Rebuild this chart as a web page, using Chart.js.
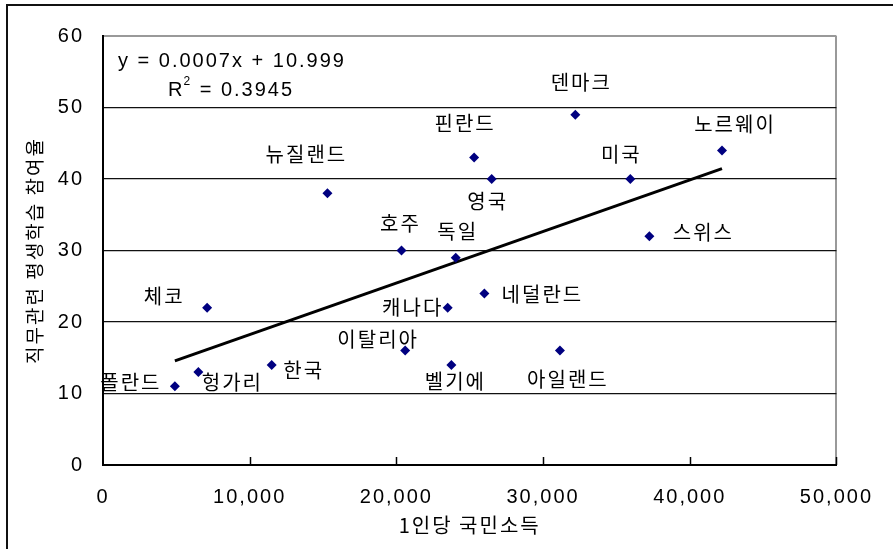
<!DOCTYPE html>
<html>
<head>
<meta charset="utf-8">
<script src="https://cdn.jsdelivr.net/npm/chart.js@4"></script>
<style>
  html, body { margin: 0; padding: 0; background: #fff; overflow: hidden; }
  #wrap { position: relative; width: 893px; height: 549px; }
  #frame { position: absolute; left: 6px; top: 4px; width: 900px; height: 560px; border: 2px solid #111; box-sizing: border-box; }
  canvas { position: absolute; left: 0; top: 0; }
</style>
</head>
<body>
<div id="wrap">
  <div id="frame"></div>
  <canvas id="chart" width="893" height="549"></canvas>
</div>
<script>
// 국가별 1인당 국민소득 / 직무관련 평생학습 참여율
const countries = ['폴란드', '헝가리', '체코', '한국', '뉴질랜드', '호주', '이탈리아', '캐나다', '벨기에',
                   '독일', '핀란드', '네덜란드', '영국', '아일랜드', '덴마크', '미국', '스위스', '노르웨이'];
const income = [4900, 6500, 7100, 11500, 15300, 20350, 20600, 23500, 23750,
                24050, 25300, 26000, 26500, 31150, 32200, 35950, 37250, 42200];
const rate = [11, 13, 22, 14, 38, 30, 16, 22, 14,
              29, 43, 24, 40, 16, 49, 40, 32, 44];
const xTicks = [0, 10000, 20000, 30000, 40000, 50000];
const yTicks = [0, 10, 20, 30, 40, 50, 60];
const equationText = 'y = 0.0007x + 10.999';
const r2Text = ' = 0.3945';

// 이름표 위치 (점 기준 오프셋, px)
const labelOffsets = {
    '폴란드': [-45, -4], '헝가리': [33, 10], '체코': [-44, -11], '한국': [31, 6],
    '뉴질랜드': [-22, -39], '호주': [-2, -27], '이탈리아': [-28, -11], '캐나다': [-36, 0],
    '벨기에': [3, 17], '독일': [1, -26], '핀란드': [-10, -34], '네덜란드': [57, 1],
    '영국': [-5, 22], '아일랜드': [7, 29], '덴마크': [5, -32], '미국': [-10, -25],
    '스위스': [53, -4], '노르웨이': [12, -26]
};

const FONT_NUM = '"Liberation Sans", Arial, "Noto Sans CJK KR", sans-serif';
const FONT_KR = '"Noto Sans CJK KR", "Liberation Sans", sans-serif';

// 추세선 (최소제곱)
function trendLine() {
    const n = income.length;
    let sx = 0, sy = 0, sxx = 0, sxy = 0;
    for (let i = 0; i < n; i++) {
        sx += income[i]; sy += rate[i];
        sxx += income[i] * income[i]; sxy += income[i] * rate[i];
    }
    const b = (n * sxy - sx * sy) / (n * sxx - sx * sx);
    const a = (sy - b * sx) / n;
    const x0 = Math.min(...income), x1 = Math.max(...income);
    return [{x: x0, y: a + b * x0}, {x: x1, y: a + b * x1}];
}

const spacingPlugin = {
    id: 'spacing',
    beforeLayout(chart) { chart.ctx.letterSpacing = '2px'; },
    beforeDraw(chart) { chart.ctx.letterSpacing = '2px'; }
};

const extrasPlugin = {
    id: 'extras',
    afterDraw(chart) {
        const ctx = chart.ctx;
        const xs = chart.scales.x, ys = chart.scales.y;
        const area = chart.chartArea;
        ctx.save();
        ctx.letterSpacing = '0px';

        // x축 안쪽 눈금
        ctx.strokeStyle = '#000';
        ctx.lineWidth = 1.5;
        xTicks.forEach(v => {
            if (v === 0) return;
            const px = Math.round(xs.getPixelForValue(v)) + 0.5;
            ctx.beginPath();
            ctx.moveTo(px, area.bottom);
            ctx.lineTo(px, area.bottom - 8);
            ctx.stroke();
        });

        // 국가 이름표
        ctx.letterSpacing = '2px';
        ctx.fillStyle = '#000';
        ctx.font = '20px ' + FONT_KR;
        ctx.textAlign = 'center';
        ctx.textBaseline = 'middle';
        countries.forEach((name, i) => {
            const off = labelOffsets[name] || [0, -20];
            const px = xs.getPixelForValue(income[i]) + off[0];
            const py = ys.getPixelForValue(rate[i]) + off[1];
            ctx.fillText(name, px + 1, py);
        });

        // 회귀식
        ctx.font = '20px ' + FONT_NUM;
        ctx.letterSpacing = '2px';
        ctx.textAlign = 'left';
        ctx.fillText(equationText, area.left + 15, area.top + 25);
        let rx = area.left + 65;
        const ry = area.top + 54;
        ctx.fillText('R', rx, ry);
        rx += ctx.measureText('R').width - 1;
        ctx.font = '12px ' + FONT_NUM;
        ctx.fillText('2', rx, ry - 8);
        rx += ctx.measureText('2').width;
        ctx.font = '20px ' + FONT_NUM;
        ctx.fillText(r2Text, rx, ry);
        ctx.restore();
    }
};

const ctx = document.getElementById('chart').getContext('2d');
new Chart(ctx, {
    type: 'scatter',
    data: {
        datasets: [{
            label: '참여율',
            data: income.map((v, i) => ({x: v, y: rate[i]})),
            pointStyle: 'rectRot',
            pointRadius: 5,
            pointHoverRadius: 5,
            backgroundColor: '#000080',
            borderColor: '#000080',
            borderWidth: 0
        }, {
            label: '추세선',
            type: 'line',
            data: trendLine(),
            borderColor: '#000',
            borderWidth: 3,
            pointRadius: 0,
            fill: false
        }]
    },
    options: {
        responsive: false,
        animation: false,
        events: [],
        layout: { padding: { left: 0, top: 36, right: 55, bottom: 0 } },
        plugins: { legend: { display: false }, tooltip: { enabled: false } },
        scales: {
            x: {
                type: 'linear',
                min: 0, max: 50000,
                afterBuildTicks: s => { s.ticks = xTicks.map(v => ({value: v})); },
                afterFit: s => { s.height = 84; },
                ticks: {
                    color: '#000',
                    padding: 20,
                    maxRotation: 0,
                    font: { size: 20, family: FONT_NUM },
                    callback: v => v.toLocaleString('en-US')
                },
                grid: {
                    drawTicks: false,
                    color: c => (c.tick && c.tick.value === 50000) ? '#999' : 'rgba(0,0,0,0)',
                    lineWidth: 2
                },
                border: { color: '#000', width: 2 },
                title: {
                    display: true,
                    text: '1인당 국민소득',
                    color: '#000',
                    font: { size: 20, family: FONT_KR },
                    padding: { top: 0, bottom: 12 }
                }
            },
            y: {
                min: 0, max: 60,
                afterBuildTicks: s => { s.ticks = yTicks.map(v => ({value: v})); },
                afterFit: s => { s.width = 103; },
                ticks: {
                    color: '#000',
                    padding: 19,
                    font: { size: 20, family: FONT_NUM }
                },
                grid: {
                    drawTicks: false,
                    color: c => (c.tick && c.tick.value === 60) ? '#999' : '#111',
                    lineWidth: c => (c.tick && c.tick.value === 60) ? 2 : 1.3
                },
                border: { color: '#000', width: 2 },
                title: {
                    display: true,
                    text: '직무관련 평생학습 참여율',
                    color: '#000',
                    font: { size: 19, family: FONT_KR },
                    padding: { top: 23, bottom: 0 }
                }
            }
        }
    },
    plugins: [spacingPlugin, extrasPlugin]
});
</script>
</body>
</html>
